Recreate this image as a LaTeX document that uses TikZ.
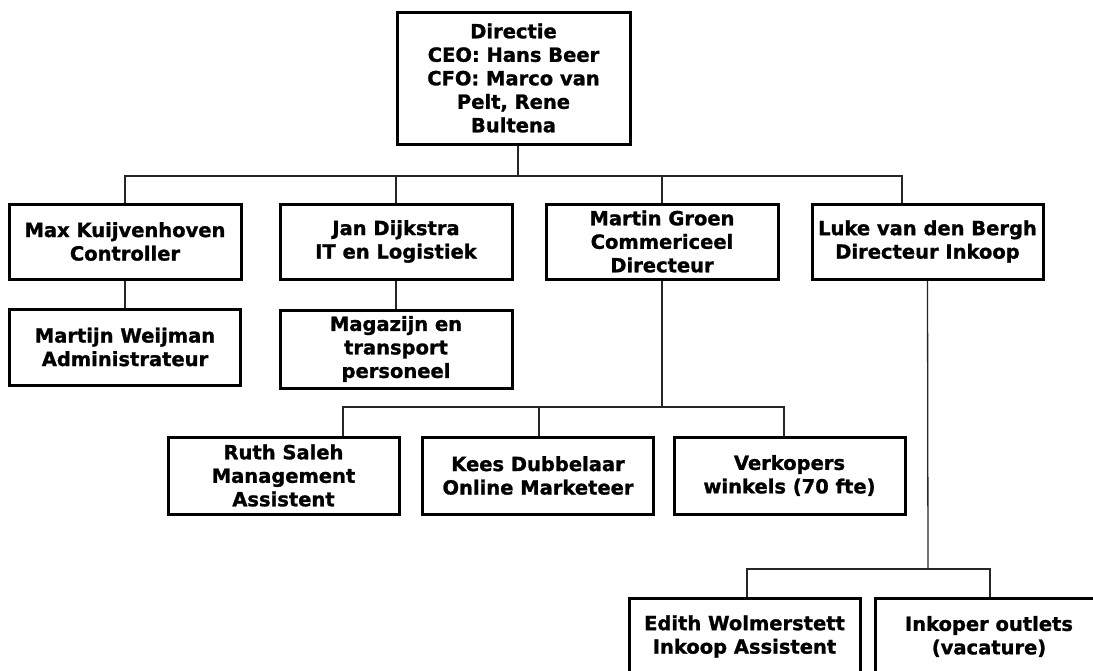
\documentclass[tikz,border=0pt]{standalone}
\usepackage{fontspec}
\setmainfont{DejaVu Sans}[BoldFeatures={FakeBold=1.2}]
\begin{document}
\begin{tikzpicture}[x=1pt,y=-1pt,
  box/.style={draw=black, line width=3pt, fill=white, inner sep=0pt,
    minimum width=231pt, minimum height=76pt, align=center,
    font=\fontsize{19.5}{23.5}\selectfont\bfseries},
  conn/.style={draw=black!85, line width=1.3pt}]
\useasboundingbox (0,0) rectangle (1093,670);
\clip (0,0) rectangle (1093,670);
\fill[white] (0,0) rectangle (1093,670);

\node[box, minimum width=233pt, minimum height=132pt] (dir) at (513.5,78) {Directie\\CEO: Hans Beer\\CFO: Marco van\\Pelt, Rene\\Bultena};

\node[box, minimum width=232pt, minimum height=75pt] (max) at (125,241.5) {Max Kuijvenhoven\\Controller};
\node[box, minimum width=232pt, minimum height=75pt] (jan) at (396,241.5) {Jan Dijkstra\\IT en Logistiek};
\node[box, minimum width=232pt, minimum height=75pt] (martin) at (662,241.5) {Martin Groen\\Commericeel\\Directeur};
\node[box, minimum width=231pt, minimum height=75pt] (luke) at (927.5,241.5) {Luke van den Bergh\\Directeur Inkoop};

\node[box, minimum width=231pt, minimum height=76pt] (martijn) at (125,347) {Martijn Weijman\\Administrateur};
\node[box, minimum width=232pt, minimum height=78pt] (magazijn) at (396,349) {Magazijn en\\transport\\personeel};

\node[box, minimum width=231pt, minimum height=77pt] (ruth) at (283.5,475.5) {Ruth Saleh\\Management\\Assistent};
\node[box, minimum width=231pt, minimum height=77pt] (kees) at (538,475.5) {Kees Dubbelaar\\Online Marketeer};
\node[box, minimum width=231pt, minimum height=77pt] (verk) at (789.5,475.5) {Verkopers\\winkels (70 fte)};

\node[box, minimum width=231pt, minimum height=77pt] (edith) at (744.5,636.5) {Edith Wolmerstett\\Inkoop Assistent};
\node[box, minimum width=228pt, minimum height=77pt] (inkoper) at (989,636.5) {Inkoper outlets\\(vacature)};

% top level bus
\coordinate (b1) at (518,176);
\coordinate (lukein) at ([xshift=-25.5pt]luke.north);
\draw[conn] ([xshift=4.5pt]dir.south) -- (b1);
\draw[conn] (max.north) |- (b1);
\draw[conn] (b1) -| (lukein);
\draw[conn] (jan.north) -- (jan.north |- b1);
\draw[conn] (martin.north) -- (martin.north |- b1);

% second level
\draw[conn] (max.south) -- (martijn.north);
\draw[conn] (jan.south) -- (magazijn.north);

% sales bus
\coordinate (b2) at (662,407);
\coordinate (ruthin) at ([xshift=59.5pt]ruth.north);
\coordinate (keesin) at ([xshift=1pt]kees.north);
\coordinate (verkin) at ([xshift=-5.5pt]verk.north);
\draw[conn] (martin.south) -- (b2);
\draw[conn] (ruthin) |- (b2);
\draw[conn] (b2) -| (verkin);
\draw[conn] (keesin) -- (keesin |- b2);

% purchase bus
\coordinate (b3) at (928,569);
\coordinate (edithin) at ([xshift=2.5pt]edith.north);
\coordinate (inkin) at ([xshift=1pt]inkoper.north);
\draw[conn] (luke.south) -- (b3);
\draw[conn] (edithin) |- (b3);
\draw[conn] (b3) -| (inkin);
\end{tikzpicture}
\end{document}
